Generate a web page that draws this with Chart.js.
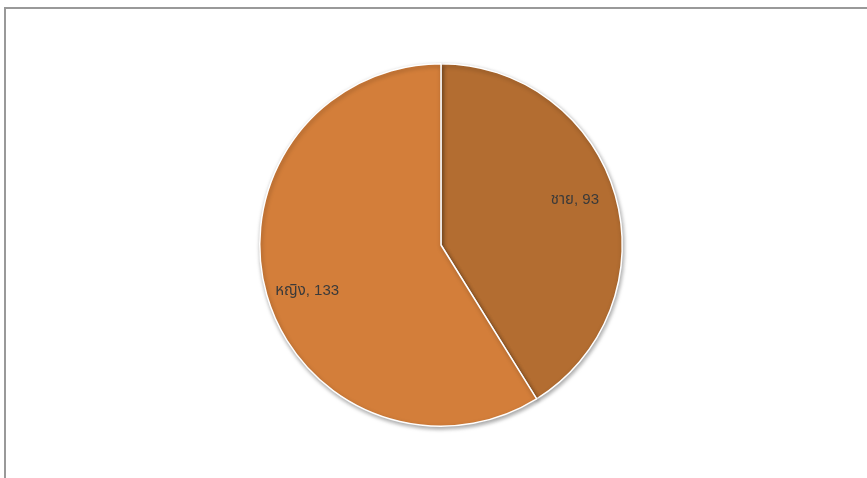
<!DOCTYPE html>
<html>
<head>
<meta charset="utf-8">
<script src="https://cdn.jsdelivr.net/npm/chart.js@4.4.1/dist/chart.umd.min.js"></script>
<style>
  html, body { margin: 0; padding: 0; background: #fff; }
  #wrap { position: relative; width: 867px; height: 478px; overflow: hidden; }
  #frame { position: absolute; left: 4px; top: 7px; width: 900px; height: 500px;
           border-top: 2px solid #999; border-left: 2px solid #999; }
  canvas { position: absolute; left: 0; top: 0; }
</style>
</head>
<body>
<div id="wrap">
  <div id="frame"></div>
  <canvas id="chart" width="867" height="478"></canvas>
</div>
<script>
const labels = ['ชาย', 'หญิง'];
const values = [93, 133];
const colors = ['#B36D31', '#D37E3A'];

// ป้ายข้อความในแต่ละชิ้น
const sliceLabels = {
    id: 'sliceLabels',
    afterDatasetsDraw(chart) {
        const ctx = chart.ctx;
        const meta = chart.getDatasetMeta(0);
        ctx.save();
        ctx.font = '15px "Liberation Sans", Arial, "Noto Sans Thai", sans-serif';
        ctx.fillStyle = '#3a3a3a';
        ctx.textAlign = 'center';
        ctx.textBaseline = 'middle';
        meta.data.forEach((arc, i) => {
            const mid = (arc.startAngle + arc.endAngle) / 2 - 0.05; // ขยับเล็กน้อยแบบ Excel
            const r = arc.outerRadius * 0.78;
            const x = arc.x + Math.cos(mid) * r;
            const y = arc.y + Math.sin(mid) * r;
            ctx.fillText(labels[i] + ', ' + values[i], x, y);
        });
        ctx.restore();
    }
};

// เงาเบา ๆ รอบวงกลม
const pieShadow = {
    id: 'pieShadow',
    beforeDatasetsDraw(chart) {
        const ctx = chart.ctx;
        ctx.save();
        ctx.shadowColor = 'rgba(0,0,0,0.35)';
        ctx.shadowBlur = 4;
        ctx.shadowOffsetX = 1;
        ctx.shadowOffsetY = 2;
    },
    afterDatasetsDraw(chart) {
        chart.ctx.restore();
    }
};

new Chart(document.getElementById('chart'), {
    type: 'pie',
    data: {
        labels: labels,
        datasets: [{
            data: values,
            backgroundColor: colors,
            borderColor: '#ffffff',
            borderWidth: 1.5
        }]
    },
    options: {
        responsive: false,
        animation: false,
        layout: { padding: { left: 259, right: 244, top: 63, bottom: 51 } },
        plugins: {
            legend: { display: false },
            tooltip: { enabled: false }
        }
    },
    plugins: [pieShadow, sliceLabels]
});
</script>
</body>
</html>
